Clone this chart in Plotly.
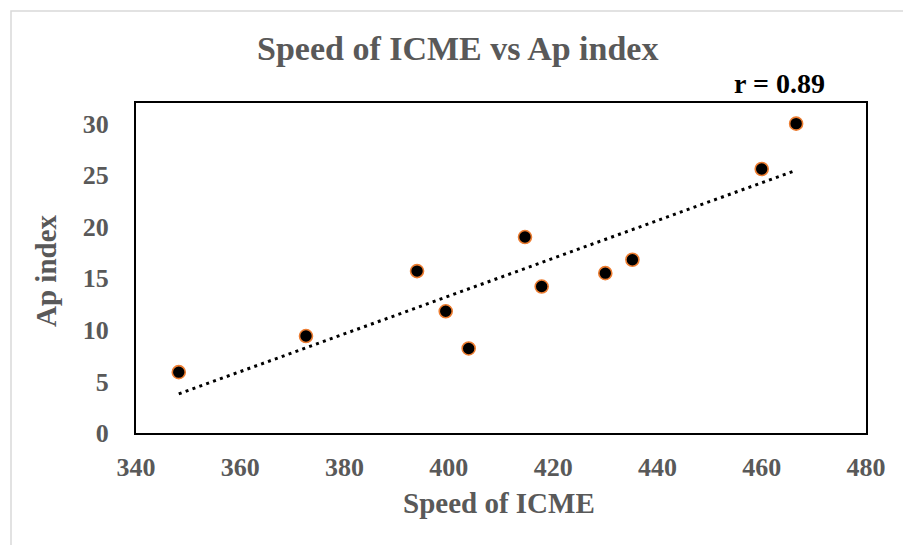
import numpy as np
import plotly.graph_objects as go

# Data
speed = [348.2, 372.6, 393.9, 399.4, 403.8, 414.6, 417.8, 430.0, 435.2, 460.0, 466.6]
ap_index = [5.9, 9.4, 15.7, 11.8, 8.2, 19.0, 14.2, 15.5, 16.8, 25.6, 30.0]
x_ticks = [340, 360, 380, 400, 420, 440, 460, 480]
y_ticks = [0, 5, 10, 15, 20, 25, 30]
title_text = "Speed of ICME vs Ap index"
r_text = "r = 0.89"
x_title = "Speed of ICME"
y_title = "Ap index"

# Linear trendline (least squares) from the data
slope, intercept = np.polyfit(speed, ap_index, 1)
trend_x = [min(speed), max(speed)]
trend_y = [slope * v + intercept for v in trend_x]

FONT = "Liberation Serif"
GRAY = "#595959"

fig = go.Figure()
fig.add_trace(go.Scatter(
    x=trend_x, y=trend_y, mode="lines",
    line=dict(color="black", width=3, dash="3px,4.3px"),
    hoverinfo="skip", showlegend=False,
))
fig.add_trace(go.Scatter(
    x=speed, y=ap_index, mode="markers",
    marker=dict(size=13, color="black", line=dict(color="#ED7D31", width=1.6)),
    showlegend=False,
))

axis_common = dict(
    showgrid=False, zeroline=False, showline=True, linecolor="black",
    linewidth=2, mirror=True, ticks="",
    tickfont=dict(family=FONT, size=26, color=GRAY, weight="bold"),
)
fig.update_xaxes(range=[340, 480], tickvals=x_ticks, ticklabelstandoff=10, **axis_common)
fig.update_yaxes(range=[0, 32], tickvals=y_ticks, ticklabelstandoff=20, **axis_common)

ann = []
ann.append(dict(text=title_text, x=0.441, y=1.165, xref="paper", yref="paper",
                xanchor="center", yanchor="middle", showarrow=False,
                font=dict(family=FONT, size=34, color=GRAY, weight="bold")))
ann.append(dict(text=r_text, x=0.882, y=1.059, xref="paper", yref="paper",
                xanchor="center", yanchor="middle", showarrow=False,
                font=dict(family=FONT, size=28, color="black", weight="bold")))
ann.append(dict(text=x_title, x=0.497, y=-0.213, xref="paper", yref="paper",
                xanchor="center", yanchor="middle", showarrow=False,
                font=dict(family=FONT, size=29, color=GRAY, weight="bold")))
ann.append(dict(text=y_title, x=-0.1233, y=0.494, xref="paper", yref="paper",
                xanchor="center", yanchor="middle", showarrow=False, textangle=-90,
                font=dict(family=FONT, size=29, color=GRAY, weight="bold")))

fig.update_layout(
    width=903, height=545, autosize=False,
    margin=dict(l=136, r=37, t=103, b=112, pad=0),
    paper_bgcolor="white", plot_bgcolor="white",
    annotations=ann,
    shapes=[dict(type="rect", xref="paper", yref="paper",
                 x0=(11 - 136) / 730, x1=1.5, y0=-1.0, y1=(433 - 11) / 330,
                 line=dict(color="#D9D9D9", width=1.5), fillcolor="rgba(0,0,0,0)",
                 layer="below")],
)

fig.write_html("out.html")
